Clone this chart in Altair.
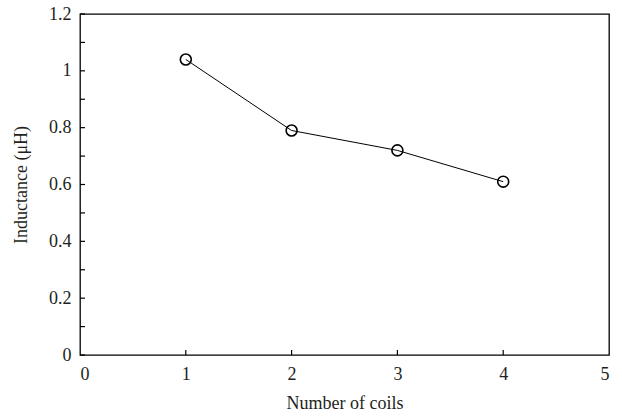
import altair as alt
import pandas as pd

coils = [1, 2, 3, 4]
inductance = [1.04, 0.79, 0.72, 0.61]
y_ticks = [0, 0.1, 0.2, 0.3, 0.4, 0.5, 0.6, 0.7, 0.8, 0.9, 1.0, 1.1, 1.2]
y_labels = [0, 0.2, 0.4, 0.6, 0.8, 1.0, 1.2]
x_ticks = [1, 2, 3, 4]
x_labels = [0, 1, 2, 3, 4, 5]

W, H = 529, 341
FONT = "Liberation Serif"
FS = 18
TXT = "#231f20"

df = pd.DataFrame({"coils": coils, "L": inductance})
ytick_df = pd.DataFrame({"v": y_ticks})
xtick_df = pd.DataFrame({"v": x_ticks})

xs = alt.Scale(domain=[0, 5], nice=False)
ys = alt.Scale(domain=[0, 1.2], nice=False)

xaxis = alt.Axis(values=x_labels, format="~g", ticks=False, domain=False, grid=False,
                 labelFont=FONT, labelFontSize=FS, labelColor=TXT, labelPadding=10,
                 title="Number of coils", titleFont=FONT, titleFontSize=FS,
                 titleFontWeight="normal", titleColor=TXT, titlePadding=11)
yaxis = alt.Axis(values=y_labels, format="~g", ticks=False, domain=False, grid=False,
                 labelFont=FONT, labelFontSize=FS, labelColor=TXT, labelPadding=9,
                 title="Inductance (μH)", titleFont=FONT, titleFontSize=FS,
                 titleFontWeight="normal", titleColor=TXT, titlePadding=18)

line = alt.Chart(df).mark_line(color="black", strokeWidth=1).encode(
    x=alt.X("coils:Q", scale=xs, axis=xaxis),
    y=alt.Y("L:Q", scale=ys, axis=yaxis),
)
pts = alt.Chart(df).mark_point(shape="circle", size=120, filled=False,
                               color="black", strokeWidth=1.6, opacity=1).encode(
    x=alt.X("coils:Q", scale=xs),
    y=alt.Y("L:Q", scale=ys),
)
yt = alt.Chart(ytick_df).mark_rule(color="black", strokeWidth=1.2).encode(
    y=alt.Y("v:Q", scale=ys),
    x=alt.value(0), x2=alt.value(5),
)
xt = alt.Chart(xtick_df).mark_rule(color="black", strokeWidth=1.2).encode(
    x=alt.X("v:Q", scale=xs),
    y=alt.value(H), y2=alt.value(H - 5),
)

chart = alt.layer(yt, xt, line, pts).properties(
    width=W, height=H,
    autosize=alt.AutoSizeParams(type="none"),
    padding={"left": 80, "top": 14, "right": 13, "bottom": 62},
).configure(
    background="white",
    view=alt.ViewConfig(stroke="black", strokeWidth=1.3),
)

chart.save("out.html", embed_options={"renderer": "svg", "actions": False})
